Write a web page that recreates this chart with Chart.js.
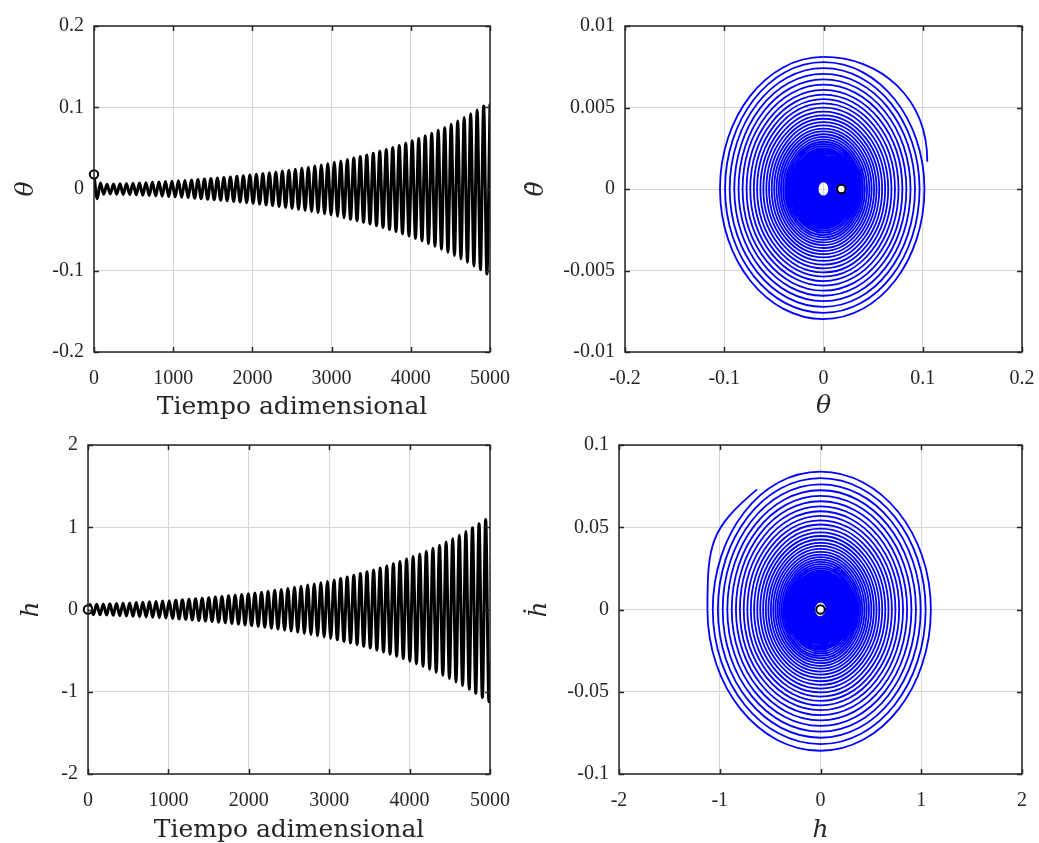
<!DOCTYPE html>
<html>
<head>
<meta charset="utf-8">
<script src="https://cdn.jsdelivr.net/npm/chart.js@4.4.1/dist/chart.umd.min.js"></script>
<style>
  html, body { margin: 0; padding: 0; background: #ffffff; }
  #page { position: relative; width: 1039px; height: 843px; overflow: hidden; background: #ffffff; }
  canvas { position: absolute; }
</style>
</head>
<body>
<div id="page">
  <canvas id="thetaTime" width="520" height="421" style="left:0px;top:0px"></canvas>
  <canvas id="thetaPhase" width="519" height="421" style="left:520px;top:0px"></canvas>
  <canvas id="hTime" width="520" height="422" style="left:0px;top:421px"></canvas>
  <canvas id="hPhase" width="519" height="422" style="left:520px;top:421px"></canvas>
</div>
<script>
// ---------------------------------------------------------------------------
// Pitch angle θ: turning points (adimensional time, value), last entry = end of run
const thetaTurnTimes = [
  0, 41, 82, 123, 164, 205, 246, 287, 328, 369, 410, 451, 492, 533, 574, 615, 656, 697, 738, 779,
  820, 861, 902, 943, 984, 1025, 1066, 1107, 1148, 1189, 1230, 1271, 1312, 1353, 1394, 1435, 1476, 1517, 1558, 1599,
  1640, 1681, 1722, 1763, 1804, 1845, 1886, 1927, 1968, 2009, 2050, 2091, 2132, 2173, 2214, 2255, 2296, 2337, 2378, 2419,
  2460, 2501, 2542, 2583, 2624, 2665, 2706, 2747, 2788, 2829, 2870, 2911, 2952, 2993, 3034, 3075, 3116, 3157, 3198, 3239,
  3280, 3321, 3362, 3403, 3444, 3485, 3526, 3567, 3608, 3649, 3690, 3731, 3772, 3813, 3854, 3895, 3936, 3977, 4018, 4059,
  4100, 4141, 4182, 4223, 4264, 4305, 4346, 4387, 4428, 4469, 4510, 4551, 4592, 4633, 4674, 4715, 4756, 4797, 4838, 4879,
  4920, 4961, 5000
];
const thetaTurnValues = [
  0.0180, -0.0120, 0.0074, -0.0064, 0.0058, -0.0060, 0.0061, -0.0063, 0.0064, -0.0066,
  0.0067, -0.0069, 0.0071, -0.0072, 0.0074, -0.0076, 0.0078, -0.0080, 0.0082, -0.0084,
  0.0086, -0.0088, 0.0091, -0.0093, 0.0095, -0.0097, 0.0100, -0.0102, 0.0105, -0.0108,
  0.0110, -0.0113, 0.0116, -0.0119, 0.0122, -0.0125, 0.0128, -0.0131, 0.0134, -0.0138,
  0.0141, -0.0145, 0.0148, -0.0152, 0.0156, -0.0160, 0.0164, -0.0168, 0.0172, -0.0176,
  0.0181, -0.0185, 0.0190, -0.0195, 0.0199, -0.0204, 0.0209, -0.0215, 0.0220, -0.0226,
  0.0231, -0.0237, 0.0243, -0.0249, 0.0255, -0.0262, 0.0268, -0.0275, 0.0282, -0.0289,
  0.0296, -0.0303, 0.0311, -0.0319, 0.0327, -0.0335, 0.0343, -0.0352, 0.0361, -0.0370,
  0.0379, -0.0388, 0.0398, -0.0408, 0.0418, -0.0429, 0.0439, -0.0450, 0.0462, -0.0473,
  0.0485, -0.0497, 0.0510, -0.0522, 0.0535, -0.0549, 0.0562, -0.0576, 0.0591, -0.0606,
  0.0621, -0.0636, 0.0652, -0.0669, 0.0685, -0.0702, 0.0720, -0.0738, 0.0756, -0.0775,
  0.0795, -0.0815, 0.0835, -0.0856, 0.0877, -0.0899, 0.0922, -0.0945, 0.0968, -0.0992,
  0.1017, -0.1043, 0.1046
];
// dθ/dt where θ crosses zero after each turning point; last entry = rate at end of run
const thetaRates = [
  -0.00116, 0.00075, -0.00053, 0.00047, -0.00046, 0.00047, -0.00048, 0.00049, -0.00050, 0.00052,
  -0.00053, 0.00054, -0.00055, 0.00057, -0.00058, 0.00060, -0.00061, 0.00063, -0.00064, 0.00066,
  -0.00068, 0.00069, -0.00071, 0.00073, -0.00074, 0.00076, -0.00078, 0.00080, -0.00083, 0.00084,
  -0.00086, 0.00089, -0.00091, 0.00093, -0.00096, 0.00098, -0.00100, 0.00103, -0.00105, 0.00108,
  -0.00111, 0.00114, -0.00116, 0.00119, -0.00122, 0.00126, -0.00129, 0.00132, -0.00135, 0.00138,
  -0.00142, 0.00145, -0.00149, 0.00153, -0.00156, 0.00160, -0.00164, 0.00169, -0.00173, 0.00177,
  -0.00181, 0.00186, -0.00191, 0.00195, -0.00200, 0.00205, -0.00210, 0.00216, -0.00221, 0.00227,
  -0.00232, 0.00238, -0.00244, 0.00250, -0.00257, 0.00263, -0.00269, 0.00276, -0.00283, 0.00290,
  -0.00297, 0.00305, -0.00312, 0.00320, -0.00328, 0.00336, -0.00344, 0.00353, -0.00362, 0.00371,
  -0.00381, 0.00390, -0.00400, 0.00410, -0.00420, 0.00431, -0.00441, 0.00452, -0.00464, 0.00475,
  -0.00487, 0.00499, -0.00512, 0.00525, -0.00537, 0.00551, -0.00565, 0.00579, -0.00593, 0.00608,
  -0.00624, 0.00640, -0.00655, 0.00672, -0.00688, 0.00706, -0.00723, 0.00741, -0.00760, 0.00778,
  -0.00798, 0.00810, 0.00167
];
// hidden steering points for the spline near the end of the run (θ, dθ/dt)
const thetaSpiralNext = [0.1069, 0];
const thetaTailPrev = [-0.1046, 0.00167];
const thetaTailNext = [0, -0.0083];

// Plunge h: start, turning points, end of run
const hTurnTimes = [
  0, 26, 67, 108, 149, 190, 231, 272, 313, 354, 395, 436, 477, 518, 559, 600, 641, 682, 723, 764,
  805, 846, 887, 928, 969, 1010, 1051, 1092, 1133, 1174, 1215, 1256, 1297, 1338, 1379, 1420, 1461, 1502, 1543, 1584,
  1625, 1666, 1707, 1748, 1789, 1830, 1871, 1912, 1953, 1994, 2035, 2076, 2117, 2158, 2199, 2240, 2281, 2322, 2363, 2404,
  2445, 2486, 2527, 2568, 2609, 2650, 2691, 2732, 2773, 2814, 2855, 2896, 2937, 2978, 3019, 3060, 3101, 3142, 3183, 3224,
  3265, 3306, 3347, 3388, 3429, 3470, 3511, 3552, 3593, 3634, 3675, 3716, 3757, 3798, 3839, 3880, 3921, 3962, 4003, 4044,
  4085, 4126, 4167, 4208, 4249, 4290, 4331, 4372, 4413, 4454, 4495, 4536, 4577, 4618, 4659, 4700, 4741, 4782, 4823, 4864,
  4905, 4946, 4987, 5000
];
const hTurnValues = [
  0, 0.0600, -0.0615, 0.0630, -0.0645, 0.0661, -0.0677, 0.0694, -0.0711, 0.0728,
  -0.0746, 0.0764, -0.0783, 0.0802, -0.0822, 0.0842, -0.0863, 0.0884, -0.0905, 0.0928,
  -0.0950, 0.0974, -0.0997, 0.1022, -0.1047, 0.1073, -0.1099, 0.1126, -0.1153, 0.1182,
  -0.1211, 0.1240, -0.1271, 0.1302, -0.1334, 0.1366, -0.1400, 0.1434, -0.1469, 0.1505,
  -0.1542, 0.1580, -0.1619, 0.1658, -0.1699, 0.1740, -0.1783, 0.1827, -0.1872, 0.1917,
  -0.1964, 0.2012, -0.2062, 0.2112, -0.2164, 0.2217, -0.2271, 0.2327, -0.2384, 0.2442,
  -0.2502, 0.2564, -0.2626, 0.2691, -0.2757, 0.2824, -0.2893, 0.2964, -0.3037, 0.3111,
  -0.3188, 0.3266, -0.3346, 0.3428, -0.3512, 0.3598, -0.3686, 0.3776, -0.3869, 0.3963,
  -0.4061, 0.4160, -0.4262, 0.4366, -0.4473, 0.4583, -0.4695, 0.4810, -0.4928, 0.5049,
  -0.5173, 0.5299, -0.5429, 0.5562, -0.5698, 0.5838, -0.5981, 0.6128, -0.6278, 0.6432,
  -0.6589, 0.6751, -0.6916, 0.7085, -0.7259, 0.7437, -0.7619, 0.7806, -0.7997, 0.8193,
  -0.8394, 0.8599, -0.8810, 0.9026, -0.9247, 0.9474, -0.9706, 0.9943, -1.0187, 1.0437,
  -1.0692, 1.0954, -1.1222, -0.6300
];
// dh/dt where h crosses zero after each point (null = no crossing); last entry = rate at end of run
const hRates = [
  null, -0.00470, 0.00482, -0.00494, 0.00506, -0.00518, 0.00531, -0.00544, 0.00557, -0.00571,
  0.00585, -0.00599, 0.00614, -0.00629, 0.00644, -0.00660, 0.00677, -0.00693, 0.00710, -0.00728,
  0.00745, -0.00764, 0.00782, -0.00801, 0.00821, -0.00841, 0.00862, -0.00883, 0.00904, -0.00927,
  0.00949, -0.00972, 0.00996, -0.01021, 0.01046, -0.01071, 0.01098, -0.01124, 0.01152, -0.01180,
  0.01209, -0.01239, 0.01269, -0.01300, 0.01332, -0.01364, 0.01398, -0.01432, 0.01468, -0.01503,
  0.01540, -0.01577, 0.01617, -0.01656, 0.01697, -0.01738, 0.01780, -0.01824, 0.01869, -0.01915,
  0.01962, -0.02010, 0.02059, -0.02110, 0.02161, -0.02214, 0.02268, -0.02324, 0.02381, -0.02439,
  0.02499, -0.02561, 0.02623, -0.02688, 0.02753, -0.02821, 0.02890, -0.02960, 0.03033, -0.03107,
  0.03184, -0.03261, 0.03341, -0.03423, 0.03507, -0.03593, 0.03681, -0.03771, 0.03864, -0.03958,
  0.04056, -0.04154, 0.04256, -0.04361, 0.04467, -0.04577, 0.04689, -0.04804, 0.04922, -0.05043,
  0.05166, -0.05293, 0.05422, -0.05555, 0.05691, -0.05831, 0.05973, -0.06120, 0.06270, -0.06423,
  0.06581, -0.06742, 0.06907, -0.07076, 0.07250, -0.07428, 0.07610, -0.07795, 0.07987, -0.08183,
  0.08383, -0.08588, null, 0.07300
];
// hidden steering points for the spline near the end of the run (h, dh/dt)
const hSpiralNext = [0, 0.0880];
const hTailPrev = [-0.6300, -0.0730];
const hTailNext = [0.4200, 0.0800];

// Axis ticks
const timeTickValues = [0, 1000, 2000, 3000, 4000, 5000];
const timeTickLabels = ['0', '1000', '2000', '3000', '4000', '5000'];
const thetaTickValues = [-0.2, -0.1, 0, 0.1, 0.2];
const thetaTickLabels = ['-0.2', '-0.1', '0', '0.1', '0.2'];
const thetaRateTickValues = [-0.01, -0.005, 0, 0.005, 0.01];
const thetaRateTickLabels = ['-0.01', '-0.005', '0', '0.005', '0.01'];
const hTickValues = [-2, -1, 0, 1, 2];
const hTickLabels = ['-2', '-1', '0', '1', '2'];
const hRateTickValues = [-0.1, -0.05, 0, 0.05, 0.1];
const hRateTickLabels = ['-0.1', '-0.05', '0', '0.05', '0.1'];

// ---------------------------------------------------------------------------
const INK = '#262626';
const GRID = '#d6d6d6';
const HIDDEN = 'rgba(0,0,0,0)';
const TICK_LEN = 5;
const TICK_FONT = { family: "'Liberation Serif', 'Times New Roman', serif", size: 20 };
const WORD_FONT = { family: "'DejaVu Serif', serif", size: 25, lineHeight: 1 };
const SYMBOL_FONT = { family: "'DejaVu Serif', serif", size: 25, style: 'italic', lineHeight: 1 };

const xy = p => ({ x: p[0], y: p[1] });

function seriesPoints(times, values) {
  return times.map((t, k) => ({ x: t, y: values[k] }));
}

// Phase-plane spiral: turning points sit on the horizontal axis, zero crossings on the
// vertical one. Everything up to the last turn/crossing, then a hidden steering point.
function spiralPoints(values, rates, next) {
  const pts = [];
  for (let k = 0; k < values.length - 1; k++) {
    pts.push({ x: values[k], y: 0 });
    if (rates[k] !== null) pts.push({ x: 0, y: rates[k] });
  }
  pts.push(xy(next));
  return pts;
}

// Final piece of the orbit: last turn/crossing -> end state, between two hidden steering points
function tailPoints(spiral, values, rates, prev, next) {
  const k = values.length - 1;
  return [xy(prev), spiral[spiral.length - 2], { x: values[k], y: rates[k] }, xy(next)];
}

// Box around the plot area with inward tick marks on all four sides
const axesBox = {
  id: 'axesBox',
  afterDatasetsDraw(chart) {
    const { ctx, chartArea: a, scales: { x, y } } = chart;
    ctx.save();
    ctx.strokeStyle = INK;
    ctx.lineWidth = 1.5;
    ctx.beginPath();
    x.ticks.forEach(t => {
      const p = Math.round(x.getPixelForValue(t.value)) + 0.5;
      ctx.moveTo(p, a.bottom); ctx.lineTo(p, a.bottom - TICK_LEN);
      ctx.moveTo(p, a.top); ctx.lineTo(p, a.top + TICK_LEN);
    });
    y.ticks.forEach(t => {
      const p = Math.round(y.getPixelForValue(t.value)) + 0.5;
      ctx.moveTo(a.left, p); ctx.lineTo(a.left + TICK_LEN, p);
      ctx.moveTo(a.right, p); ctx.lineTo(a.right - TICK_LEN, p);
    });
    ctx.stroke();
    ctx.strokeRect(a.left, a.top, a.right - a.left, a.bottom - a.top);
    ctx.restore();
  }
};

function axis(p) {
  const vertical = p.position === 'left';
  return {
    type: 'linear',
    position: p.position,
    min: p.values[0],
    max: p.values[p.values.length - 1],
    afterBuildTicks: s => { s.ticks = p.values.map(v => ({ value: v })); },
    afterFit: s => {
      if (vertical) { s.width = p.size; s.paddingTop = 0; s.paddingBottom = 0; }
      else { s.height = p.size; s.paddingLeft = 0; s.paddingRight = 0; }
    },
    ticks: {
      autoSkip: false, maxRotation: 0, minRotation: 0,
      padding: p.tickPad, color: INK, font: TICK_FONT,
      callback: (v, i) => p.labels[i]
    },
    grid: { color: GRID, lineWidth: 1, drawTicks: false },
    border: { display: false },
    title: {
      display: true, text: p.title, color: INK, font: p.titleFont,
      padding: vertical ? { top: p.titlePad, bottom: 0 } : { top: 0, bottom: p.titlePad }
    }
  };
}

// line dataset; hideFirst/hideLast keep steering segments invisible
function lineSet(points, style, hideFirst, hideLast) {
  const lastIndex = points.length - 1;
  return Object.assign({
    data: points,
    showLine: true,
    pointRadius: 0,
    pointHoverRadius: 0,
    borderJoinStyle: 'round',
    order: 1,
    segment: {
      borderColor: c => ((hideFirst && c.p0DataIndex === 0) || (hideLast && c.p1DataIndex === lastIndex)) ? HIDDEN : undefined
    }
  }, style);
}

function panel(id, p) {
  return new Chart(document.getElementById(id), {
    type: 'scatter',
    data: {
      datasets: [
        {
          data: p.marker,
          showLine: false,
          pointRadius: 4.2,
          pointBorderWidth: 2,
          pointBackgroundColor: '#ffffff',
          pointBorderColor: '#000000',
          clip: false,
          order: 0
        }
      ].concat(p.lines)
    },
    options: {
      responsive: false,
      animation: false,
      devicePixelRatio: 1,
      events: [],
      layout: { padding: { left: 0, top: p.padTop, right: p.padRight, bottom: 0 } },
      plugins: { legend: { display: false }, tooltip: { enabled: false } },
      scales: { x: axis(p.x), y: axis(p.y) }
    },
    plugins: [axesBox]
  });
}

const timeLine = { borderColor: '#000000', borderWidth: 3, cubicInterpolationMode: 'monotone' };
const phaseLine = { borderColor: '#0000ff', borderWidth: 1.8, tension: 0.55 };

const thetaSpiral = spiralPoints(thetaTurnValues, thetaRates, thetaSpiralNext);
const thetaTail = tailPoints(thetaSpiral, thetaTurnValues, thetaRates, thetaTailPrev, thetaTailNext);
const hSpiral = spiralPoints(hTurnValues, hRates, hSpiralNext);
const hTail = tailPoints(hSpiral, hTurnValues, hRates, hTailPrev, hTailNext);

panel('thetaTime', {
  padTop: 26, padRight: 30,
  lines: [lineSet(seriesPoints(thetaTurnTimes, thetaTurnValues), timeLine, false, false)],
  marker: [{ x: thetaTurnTimes[0], y: thetaTurnValues[0] }],
  x: { position: 'bottom', values: timeTickValues, labels: timeTickLabels, size: 69, tickPad: 15,
       title: 'Tiempo adimensional', titleFont: WORD_FONT, titlePad: 1 },
  y: { position: 'left', values: thetaTickValues, labels: thetaTickLabels, size: 94, tickPad: 10,
       title: 'θ', titleFont: SYMBOL_FONT, titlePad: 14 }
});

panel('thetaPhase', {
  padTop: 26, padRight: 17,
  lines: [lineSet(thetaSpiral, phaseLine, false, true), lineSet(thetaTail, phaseLine, true, true)],
  marker: [{ x: thetaTurnValues[0], y: 0 }],
  x: { position: 'bottom', values: thetaTickValues, labels: thetaTickLabels, size: 69, tickPad: 15,
       title: 'θ', titleFont: SYMBOL_FONT, titlePad: 2 },
  y: { position: 'left', values: thetaRateTickValues, labels: thetaRateTickLabels, size: 105, tickPad: 10,
       title: 'θ\u0307', titleFont: SYMBOL_FONT, titlePad: 4 }
});

panel('hTime', {
  padTop: 24, padRight: 30,
  lines: [lineSet(seriesPoints(hTurnTimes, hTurnValues), timeLine, false, false)],
  marker: [{ x: hTurnTimes[0], y: hTurnValues[0] }],
  x: { position: 'bottom', values: timeTickValues, labels: timeTickLabels, size: 69, tickPad: 15,
       title: 'Tiempo adimensional', titleFont: WORD_FONT, titlePad: 0 },
  y: { position: 'left', values: hTickValues, labels: hTickLabels, size: 88, tickPad: 10,
       title: 'h', titleFont: SYMBOL_FONT, titlePad: 19 }
});

panel('hPhase', {
  padTop: 24, padRight: 17,
  lines: [lineSet(hSpiral, phaseLine, false, true), lineSet(hTail, phaseLine, true, true)],
  marker: [{ x: hTurnValues[0], y: 0 }],
  x: { position: 'bottom', values: hTickValues, labels: hTickLabels, size: 69, tickPad: 15,
       title: 'h', titleFont: SYMBOL_FONT, titlePad: 0 },
  y: { position: 'left', values: hRateTickValues, labels: hRateTickLabels, size: 99, tickPad: 10,
       title: '\u1E23', titleFont: SYMBOL_FONT, titlePad: 7 }
});
</script>
</body>
</html>
